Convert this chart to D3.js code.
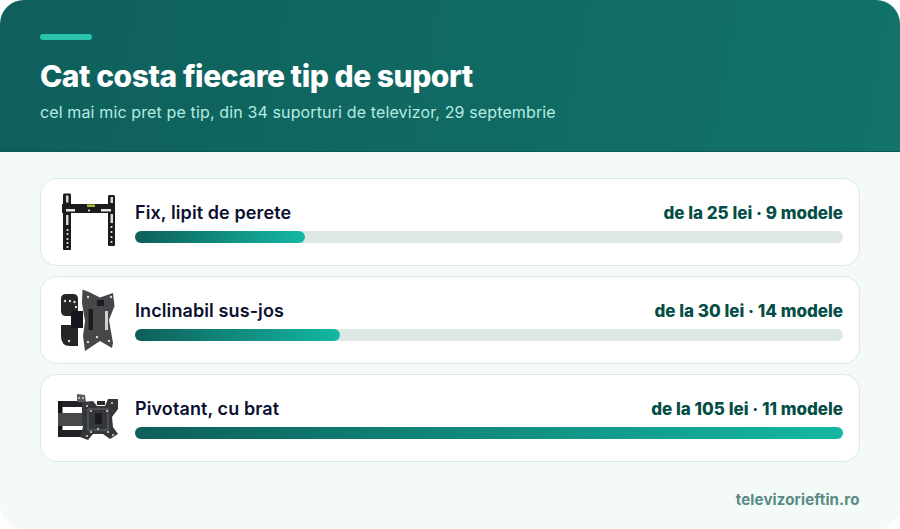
<!DOCTYPE html>
<html>
<head>
<meta charset="utf-8">
<script src="https://cdn.jsdelivr.net/npm/d3@7"></script>
<style>
html, body { margin: 0; padding: 0; background: #fff; }
svg { display: block; font-family: Inter, "Noto Sans", sans-serif; }
</style>
</head>
<body>
<div id="chart"></div>
<script>
// values
var mountTypes = ['Fix, lipit de perete', 'Inclinabil sus-jos', 'Pivotant, cu brat'];
var minPrices = [25.2, 30.4, 105];
var modelCounts = [9, 14, 11];

var titleText = 'Cat costa fiecare tip de suport';
var subtitleText = 'cel mai mic pret pe tip, din 34 suporturi de televizor, 29 septembrie';
var footerText = 'televizorieftin.ro';

var width = 900, height = 529;
var headerH = 152;

var svg = d3.select('#chart').append('svg')
    .attr('width', width)
    .attr('height', height);

var defs = svg.append('defs');

var headGrad = defs.append('linearGradient')
    .attr('id', 'headGrad')
    .attr('gradientUnits', 'userSpaceOnUse')
    .attr('x1', 0).attr('y1', 0).attr('x2', 900).attr('y2', 152);
headGrad.append('stop').attr('offset', '0%').attr('stop-color', '#0f5f5b');
headGrad.append('stop').attr('offset', '100%').attr('stop-color', '#117369');

var barGrad = defs.append('linearGradient').attr('id', 'barGrad');
barGrad.append('stop').attr('offset', '0%').attr('stop-color', '#0d5f59');
barGrad.append('stop').attr('offset', '100%').attr('stop-color', '#14b8a3');

defs.append('filter').attr('id', 'soft')
    .append('feGaussianBlur').attr('stdDeviation', 0.5);

defs.append('clipPath').attr('id', 'page')
    .append('rect')
    .attr('width', width).attr('height', height).attr('rx', 24);

var page = svg.append('g').attr('clip-path', 'url(#page)');

page.append('rect').attr('width', width).attr('height', height).attr('fill', '#f3faf8');
page.append('rect').attr('width', width).attr('height', headerH).attr('fill', 'url(#headGrad)');
page.append('rect').attr('y', headerH - 1).attr('width', width).attr('height', 1).attr('fill', '#0c5a54');

page.append('rect')
    .attr('x', 40).attr('y', 34)
    .attr('width', 52).attr('height', 6).attr('rx', 3)
    .attr('fill', '#2cc4ae');

page.append('text')
    .attr('x', 40).attr('y', 87)
    .attr('font-size', 30).attr('font-weight', 800)
    .attr('letter-spacing', -0.45)
    .attr('fill', '#fff')
    .text(titleText);

page.append('text')
    .attr('x', 40).attr('y', 118)
    .attr('font-size', 16)
    .attr('letter-spacing', 0.13)
    .attr('fill', '#b4ece1')
    .text(subtitleText);

var x = d3.scaleLinear()
    .domain([0, d3.max(minPrices)])
    .range([0, 708]);

var y = d3.scalePoint()
    .domain(mountTypes)
    .range([178.5, 374.5]);

var priceFmt = d3.format('.0f');

var rows = page.selectAll('g.row')
    .data(mountTypes)
    .enter().append('g')
    .attr('class', 'row')
    .attr('transform', function(d) { return 'translate(40.5,' + y(d) + ')'; });

rows.append('rect')
    .attr('width', 819).attr('height', 87).attr('rx', 16)
    .attr('fill', '#fff')
    .attr('stroke', '#dde7e4');

rows.append('text')
    .attr('x', 94.5).attr('y', 40.5)
    .attr('font-size', 18).attr('font-weight', 600)
    .attr('letter-spacing', 0.1)
    .attr('fill', '#0b1030')
    .text(function(d) { return d; });

rows.append('text')
    .attr('x', 802.5).attr('y', 40.5)
    .attr('text-anchor', 'end')
    .attr('font-size', 17).attr('font-weight', 800)
    .attr('fill', '#064e45')
    .text(function(d, i) {
        return 'de la ' + priceFmt(minPrices[i]) + ' lei \u00b7 ' + modelCounts[i] + ' modele';
    });

rows.append('rect')
    .attr('x', 94.5).attr('y', 52.5)
    .attr('width', x.range()[1]).attr('height', 12).attr('rx', 6)
    .attr('fill', '#dde8e5');

rows.append('rect')
    .attr('x', 94.5).attr('y', 52.5)
    .attr('width', function(d, i) { return x(minPrices[i]); })
    .attr('height', 12).attr('rx', 6)
    .attr('fill', 'url(#barGrad)');

page.append('text')
    .attr('x', 859.5).attr('y', 505)
    .attr('text-anchor', 'end')
    .attr('font-size', 15).attr('font-weight', 700)
    .attr('letter-spacing', 0.15)
    .attr('fill', '#5a8a85')
    .text(footerText);

// product pictures, drawn by hand since the photos are not available
function dots(g, pts, r, color) {
    g.selectAll(null).data(pts).enter().append('circle')
        .attr('cx', function(d) { return d[0]; })
        .attr('cy', function(d) { return d[1]; })
        .attr('r', r)
        .attr('fill', color);
}

function box(g, bx, by, w, h, color) {
    g.append('rect').attr('x', bx).attr('y', by).attr('width', w).attr('height', h).attr('fill', color);
}

function fixedIcon(g) {
    var dark = '#1c1d1f';
    g.append('path').attr('fill', dark)
        .attr('d', 'M64 193.5h6q1 0 1 1.5V249q0 1-1 1h-6q-1 0-1-1V195q0-1.5 1-1.5z');
    g.append('path').attr('fill', dark)
        .attr('d', 'M109 195h5q1 0 1 1.5V245q0 1-1 1h-5q-1 0-1-1V196.5q0-1.5 1-1.5z');
    box(g, 62, 204, 53, 9, dark);
    box(g, 87, 204.5, 8, 2.5, '#a9b53a');
    box(g, 66, 195.5, 2.5, 7, '#d8d8d8');
    box(g, 110.5, 197, 2.5, 6, '#d8d8d8');
    box(g, 66, 209, 9, 2.5, '#e6e6e6');
    box(g, 101, 209, 10, 2.5, '#e6e6e6');
    box(g, 66, 215, 2.5, 10, '#d8d8d8');
    box(g, 110.5, 214, 2.5, 9, '#d8d8d8');
    dots(g, [[67.5, 230], [67.5, 234], [67.5, 239], [67.5, 243], [67.5, 247],
             [111.5, 227], [111.5, 232], [111.5, 237], [111.5, 242],
             [89, 210.5]], 1.1, '#e4e4e4');
}

function tiltIcon(g) {
    var dark = '#262628', plate = '#454649';
    g.append('path').attr('fill', dark)
        .attr('d', 'M66 294h7q5 0 5 5V316H66q-5 0-5-5V299q0-5 5-5z');
    g.append('path').attr('fill', dark)
        .attr('d', 'M61 325h17v21H70q-9 0-9-10z');
    box(g, 71, 311, 12, 17, '#18181a');
    g.append('path').attr('fill', plate)
        .attr('d', 'M82.5 289.5L90 292.5L100 297.5L113 293L114.5 306L109 320L113 343L112 348L100 341L85 351L83 336L85 321L82 303z');
    box(g, 88.5, 309, 4.5, 21, '#1b1b1c');
    box(g, 105, 311, 3, 19, '#cfcfcf');
    box(g, 97, 300, 7, 6, '#1f1f20');
    dots(g, [[65, 301], [70, 301], [74.5, 302], [69, 341], [76, 307], [88, 297], [111, 297], [88, 342], [109, 341], [97, 337]],
        1.2, '#dcdcdc');
}

function swivelIcon(g) {
    var dark = '#242425', plate = '#36373a';
    box(g, 58, 401, 27, 6, dark);
    box(g, 58, 401, 4.5, 36, '#161617');
    box(g, 58, 413, 27, 13, '#4a4a4c');
    box(g, 58, 430, 27, 7, dark);
    g.append('path').attr('fill', '#5a5a5c')
        .attr('d', 'M77 394L85 395L86 403L77 402z');
    g.append('path').attr('fill', plate)
        .attr('d', 'M82 402L93 401L97 406L105 406L108 399L118 399L118 409L112 417L113 427L118 434L110 439L103 434L93 434L88 440L80 437L83 427L82 414z');
    g.append('path').attr('fill', 'none').attr('stroke', '#6a6b6e').attr('stroke-width', 1)
        .attr('d', 'M88 409H108V430H88z');
    box(g, 95, 413, 7, 11, '#1c1c1d');
    box(g, 97, 401, 8, 4, '#2a2a2b');
    dots(g, [[87, 406], [91, 411], [112, 403], [107, 411], [91, 432], [87, 436], [108, 432], [113, 435], [98, 429], [79, 398], [83, 398]],
        1.1, '#cfcfcf');
}

var icons = page.append('g').attr('filter', 'url(#soft)');
fixedIcon(icons.append('g'));
tiltIcon(icons.append('g'));
swivelIcon(icons.append('g'));
</script>
</body>
</html>
